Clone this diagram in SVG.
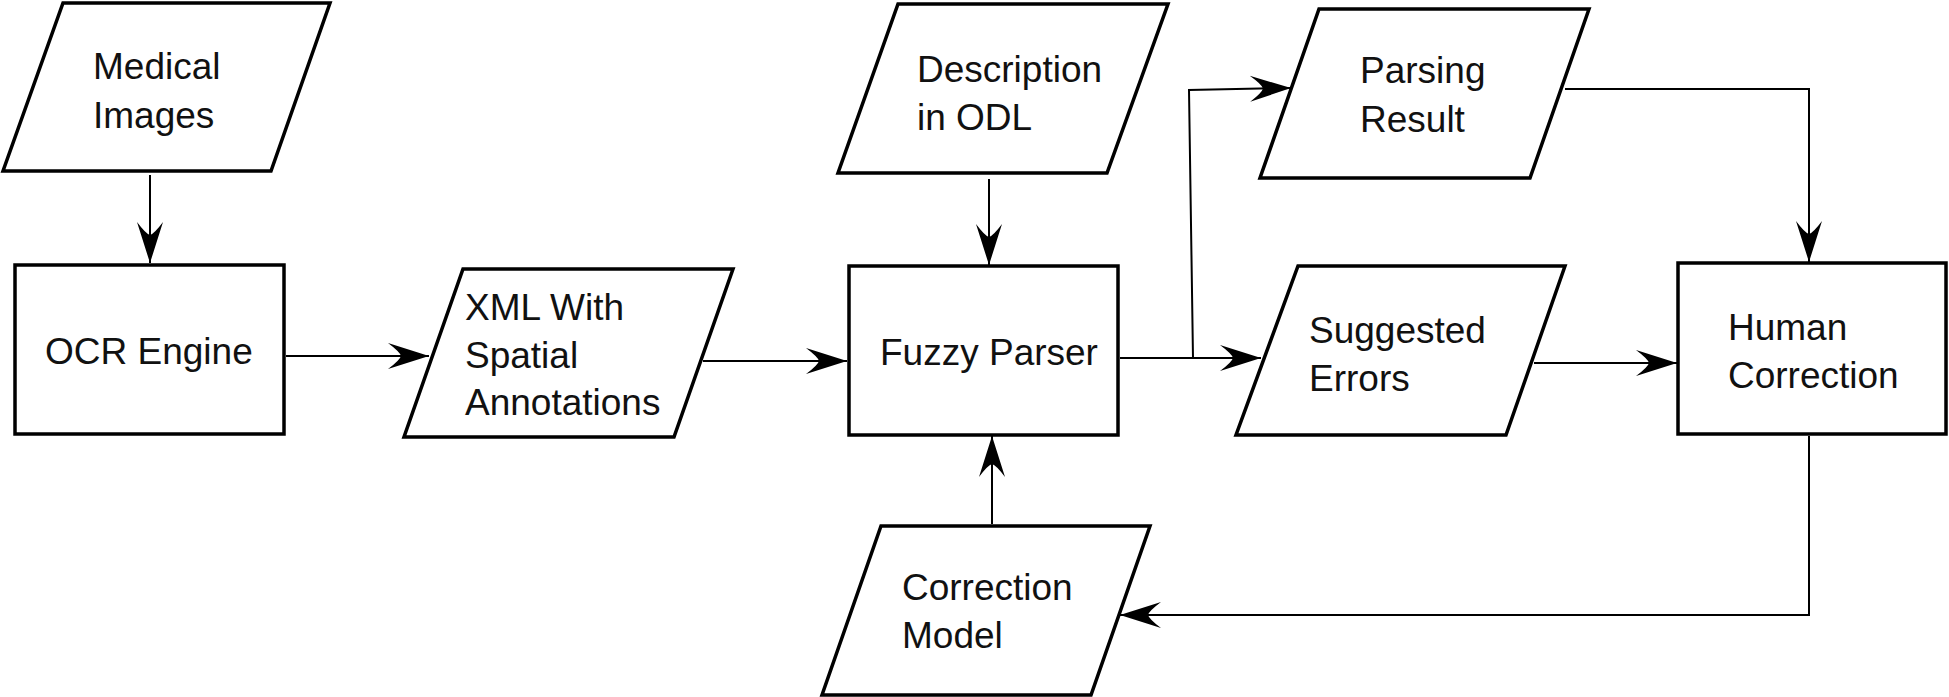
<svg xmlns="http://www.w3.org/2000/svg" width="1949" height="697" viewBox="0 0 1949 697">
<style>
.box{fill:#fff;stroke:#000;stroke-width:3.5;stroke-linejoin:miter}
.t{font-family:"Liberation Sans",Arial,sans-serif;font-size:37px;fill:#111}
.c{fill:none;stroke:#000;stroke-width:2}
</style>
<defs>
<marker id="ah" markerUnits="userSpaceOnUse" viewBox="-44 -15 46 30" refX="0" refY="0" markerWidth="46" markerHeight="30" orient="auto">
<path d="M0,0 L-41,-13 Q-29,-4 -28,0 Q-29,4 -41,13 Z" fill="#000"/>
</marker>
</defs>
<rect width="1949" height="697" fill="#fff"/>
<g id="connectors">
<path class="c" d="M150,175 L150,263" marker-end="url(#ah)"/>
<path class="c" d="M286,356 L429,356" marker-end="url(#ah)"/>
<path class="c" d="M703,361 L847,361" marker-end="url(#ah)"/>
<path class="c" d="M989,179 L989,265" marker-end="url(#ah)"/>
<path class="c" d="M992,524 L992,436" marker-end="url(#ah)"/>
<path class="c" d="M1120,358 L1261,358" marker-end="url(#ah)"/>
<path class="c" d="M1193,358 L1189,90 L1291,88" marker-end="url(#ah)"/>
<path class="c" d="M1565,89 L1809,89 L1809,262" marker-end="url(#ah)"/>
<path class="c" d="M1534,363 L1677,363" marker-end="url(#ah)"/>
<path class="c" d="M1809,436 L1809,615 L1120,615" marker-end="url(#ah)"/>
</g>
<g id="medical-images">
<polygon class="box" points="63,3 330,3 271,171 3,171"/>
<text class="t" x="93" y="79">Medical</text>
<text class="t" x="93" y="128">Images</text>
</g>
<g id="ocr-engine">
<rect class="box" x="15" y="265" width="269" height="169"/>
<text class="t" x="45" y="364">OCR Engine</text>
</g>
<g id="xml-spatial">
<polygon class="box" points="463,269 733,269 674,437 404,437"/>
<text class="t" x="465" y="320">XML With</text>
<text class="t" x="465" y="368">Spatial</text>
<text class="t" x="465" y="415">Annotations</text>
</g>
<g id="description-odl">
<polygon class="box" points="898,4 1168,4 1107,173 838,173"/>
<text class="t" x="917" y="82">Description</text>
<text class="t" x="917" y="130">in ODL</text>
</g>
<g id="fuzzy-parser">
<rect class="box" x="849" y="266" width="269" height="169"/>
<text class="t" x="880" y="365">Fuzzy Parser</text>
</g>
<g id="parsing-result">
<polygon class="box" points="1319,9 1589,9 1530,178 1260,178"/>
<text class="t" x="1360" y="83">Parsing</text>
<text class="t" x="1360" y="132">Result</text>
</g>
<g id="suggested-errors">
<polygon class="box" points="1298,266 1565,266 1506,435 1236,435"/>
<text class="t" x="1309" y="343">Suggested</text>
<text class="t" x="1309" y="391">Errors</text>
</g>
<g id="human-correction">
<rect class="box" x="1678" y="263" width="268" height="171"/>
<text class="t" x="1728" y="340">Human</text>
<text class="t" x="1728" y="388">Correction</text>
</g>
<g id="correction-model">
<polygon class="box" points="881,526 1150,526 1091,695 822,695"/>
<text class="t" x="902" y="600">Correction</text>
<text class="t" x="902" y="648">Model</text>
</g>
</svg>
